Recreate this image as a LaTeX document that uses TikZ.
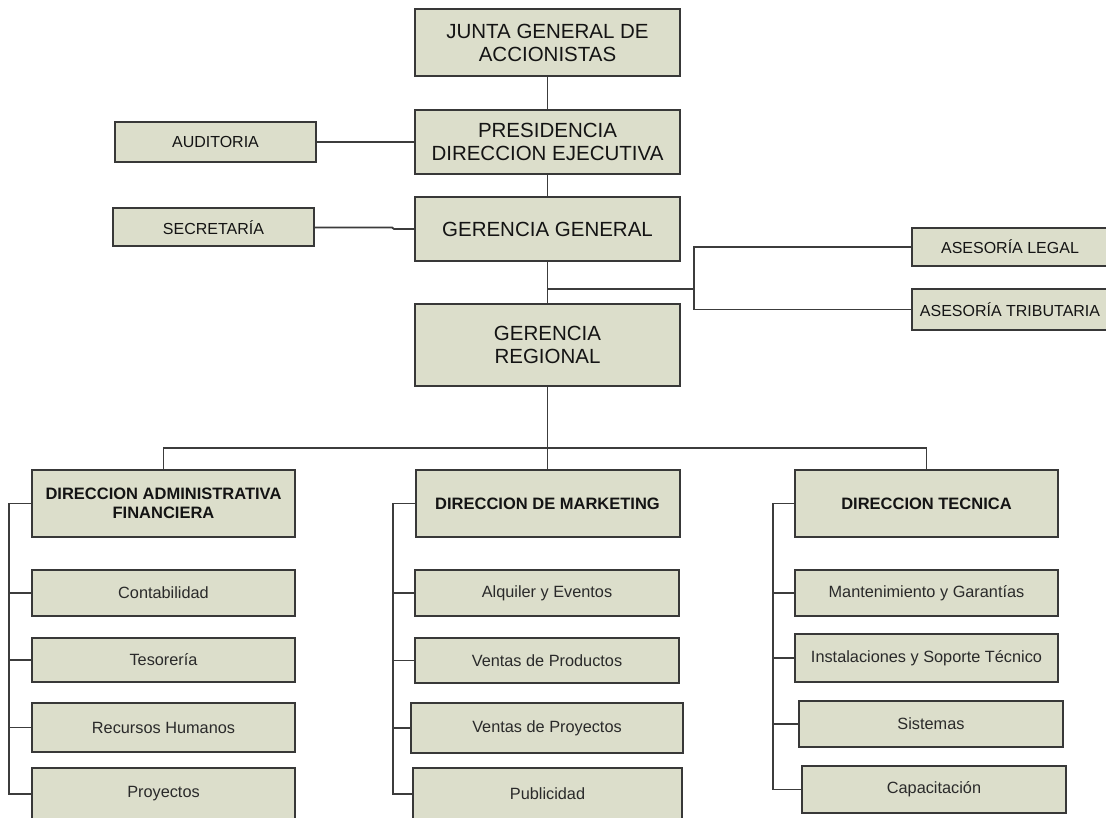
\documentclass[tikz,border=0pt]{standalone}
\usepackage{fontspec}
\setmainfont{Liberation Sans}
\usetikzlibrary{calc}

\definecolor{boxfill}{HTML}{DCDECB}
\definecolor{boxline}{HTML}{383838}
\definecolor{wirecol}{HTML}{3C3C3C}
\definecolor{ink}{HTML}{141414}
\definecolor{subink}{HTML}{2A2A2A}

\tikzset{
  box/.style={draw=boxline, fill=boxfill, line width=2pt, inner sep=0pt,
    align=center, text=ink},
  topbox/.style={box, minimum width=265pt, font=\fontsize{20.5}{23}\selectfont},
  sidebox/.style={box, font=\fontsize{16}{19}\selectfont},
  dirbox/.style={box, minimum height=67pt,
    font=\bfseries\fontsize{16.5}{19}\selectfont},
  unitbox/.style={box, font=\fontsize{16.3}{18}\selectfont, text=subink},
  wire/.style={draw=wirecol, line width=1.8pt}
}

\begin{document}
\begin{tikzpicture}[x=1pt, y=-1pt]
\clip (0,0) rectangle (1106,818);
\fill[white] (0,0) rectangle (1106,818);

% upper management chain
\node[topbox, minimum height=67pt] (jga) at (547.5,42.5) {JUNTA GENERAL DE\\ACCIONISTAS};
\node[topbox, minimum height=64pt] (pre) at (547.5,142) {PRESIDENCIA\\DIRECCION EJECUTIVA};
\node[topbox, minimum height=64pt] (gg)  at (547.5,229) {GERENCIA GENERAL};
\node[topbox, minimum height=82pt] (gr)  at (547.5,345) {GERENCIA\\REGIONAL};

% staff units
\node[sidebox, minimum width=201pt, minimum height=40pt] (aud) at (215.5,142) {AUDITORIA};
\node[sidebox, minimum width=201pt, minimum height=38pt] (sec) at (213.5,227.5) {SECRETARÍA};
\node[sidebox, minimum width=196pt, minimum height=38pt] (al)  at (1010,247) {ASESORÍA LEGAL};
\node[sidebox, minimum width=196pt, minimum height=41pt] (at)  at (1010,309.5) {ASESORÍA TRIBUTARIA};

% directorates
\node[dirbox, minimum width=263pt] (daf) at (163.5,503.5) {DIRECCION ADMINISTRATIVA\\FINANCIERA};
\node[dirbox, minimum width=264pt] (dm)  at (547.5,503.5) {DIRECCION DE MARKETING};
\node[dirbox, minimum width=263pt] (dt)  at (926.5,503.5) {DIRECCION TECNICA};

% administrative / financial units
\node[unitbox, minimum width=263pt, minimum height=46pt] (cont) at (163.5,593) {Contabilidad};
\node[unitbox, minimum width=263pt, minimum height=44pt] (tes)  at (163.5,660) {Tesorería};
\node[unitbox, minimum width=263pt, minimum height=49pt] (rh)   at (163.5,727.5) {Recursos Humanos};
\node[unitbox, minimum width=263pt, minimum height=52pt] (proy) at (163.5,794) {Proyectos};

% marketing units
\node[unitbox, minimum width=264pt, minimum height=46pt] (alq) at (547,593) {Alquiler y Eventos};
\node[unitbox, minimum width=264pt, minimum height=45pt] (vpd) at (547,660.5) {Ventas de Productos};
\node[unitbox, minimum width=272pt, minimum height=50pt] (vpy) at (547,728) {Ventas de Proyectos};
\node[unitbox, minimum width=269pt, minimum height=52pt] (pub) at (547.5,794) {Publicidad};

% technical units
\node[unitbox, minimum width=263pt, minimum height=46pt] (man) at (926.5,593) {Mantenimiento y Garantías};
\node[unitbox, minimum width=263pt, minimum height=48pt] (ins) at (926.5,658) {Instalaciones y Soporte Técnico};
\node[unitbox, minimum width=264pt, minimum height=46pt] (sis) at (931,724) {Sistemas};
\node[unitbox, minimum width=264pt, minimum height=47pt] (cap) at (934,789.5) {Capacitación};

% helper coordinates for the wiring
\coordinate (br)  at (547.5,289);
\coordinate (bx)  at (694,289);
\coordinate (bus) at (0,448);
\coordinate (la)  at (9,0);
\coordinate (lb)  at (393,0);
\coordinate (lc)  at (773,0);

% main chain
\draw[wire] (jga) -- (pre);
\draw[wire] (pre) -- (gg);
\draw[wire] (gg) -- (gr);
\draw[wire] (aud.east) -- (pre.west);
\draw[wire] (sec.east) -- ++(77,0) -- ($(gg.west)+(-20,0)$) -- (gg.west);

% advisory branch
\draw[wire] (br) -- (bx);
\draw[wire] (al.west) -| (bx) |- (at.west);

% directorate bus
\draw[wire] (gr.south) -- (dm.north);
\draw[wire] (daf.north) -- (daf.north |- bus) -- (dt.north |- bus) -- (dt.north);

% left-hand brackets of each column
\draw[wire] (daf.west) -- (daf.west -| la) -- (proy.west -| la) -- (proy.west);
\draw[wire] (cont.west) -- (cont.west -| la);
\draw[wire] (tes.west) -- (tes.west -| la);
\draw[wire] (rh.west) -- (rh.west -| la);

\draw[wire] (dm.west) -- (dm.west -| lb) -- (pub.west -| lb) -- (pub.west);
\draw[wire] (alq.west) -- (alq.west -| lb);
\draw[wire] (vpd.west) -- (vpd.west -| lb);
\draw[wire] (vpy.west) -- (vpy.west -| lb);

\draw[wire] (dt.west) -- (dt.west -| lc) -- (cap.west -| lc) -- (cap.west);
\draw[wire] (man.west) -- (man.west -| lc);
\draw[wire] (ins.west) -- (ins.west -| lc);
\draw[wire] (sis.west) -- (sis.west -| lc);
\end{tikzpicture}
\end{document}
